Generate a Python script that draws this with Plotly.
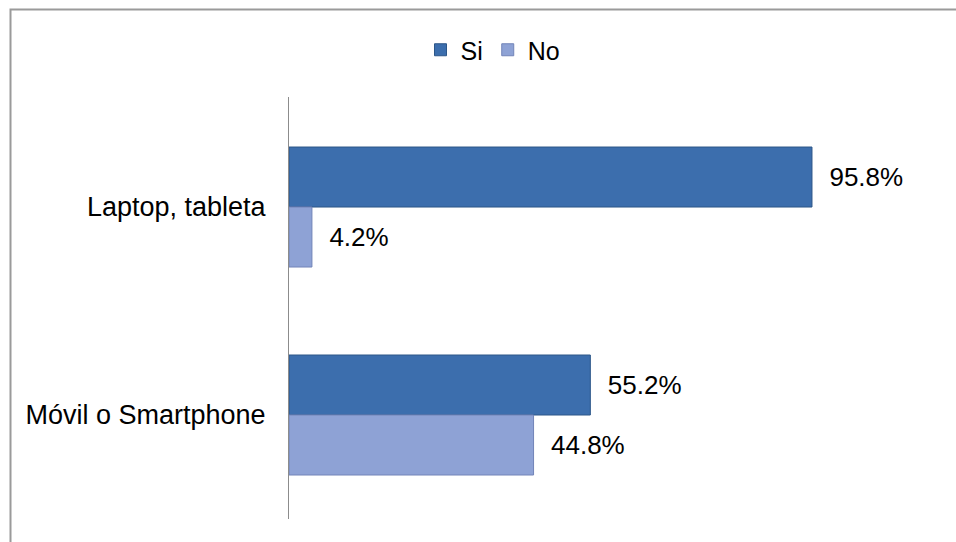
import plotly.graph_objects as go

# Device survey: share answering Si / No per device type
categories = ["Laptop, tableta", "Móvil o Smartphone"]
si_values = [95.8, 55.2]
no_values = [4.2, 44.8]
series_names = ["Si", "No"]

FONT = "Liberation Sans, Arial, sans-serif"

W, H = 956, 542
ML, MR, MT, MB = 289, 11, 97, 23
plot_w = W - ML - MR
plot_h = H - MT - MB


def px_to_paper_x(px):
    return (px - ML) / plot_w


def px_to_paper_y(py):
    return (H - MB - py) / plot_h


def labels(vals):
    return ["\u00a0\u00a0" + f"{v:.1f}%" for v in vals]


fig = go.Figure()
fig.add_trace(go.Bar(
    name=series_names[0], y=categories, x=si_values, orientation="h",
    marker=dict(color="#3c6ead", line=dict(color="#2c5688", width=1)),
    text=labels(si_values), textposition="outside", cliponaxis=False,
    textfont=dict(family=FONT, size=26, color="#000000"),
))
fig.add_trace(go.Bar(
    name=series_names[1], y=categories, x=no_values, orientation="h",
    marker=dict(color="#8ea2d5", line=dict(color="#7284b8", width=1)),
    text=labels(no_values), textposition="outside", cliponaxis=False,
    textfont=dict(family=FONT, size=26, color="#000000"),
))

fig.update_layout(
    width=W, height=H,
    margin=dict(l=ML, r=MR, t=MT, b=MB, autoexpand=False),
    paper_bgcolor="white", plot_bgcolor="white",
    barmode="group", bargap=0.423, bargroupgap=0,
    font=dict(family=FONT, size=26, color="#000000"),
    legend=dict(
        orientation="h", x=px_to_paper_x(493), y=px_to_paper_y(50),
        xanchor="center", yanchor="middle",
        font=dict(family=FONT, size=25, color="#000000"),
        itemwidth=30, traceorder="normal",
        bgcolor="rgba(0,0,0,0)",
    ),
    xaxis=dict(
        range=[0, plot_w / 5.459], visible=False, fixedrange=True,
    ),
    yaxis=dict(
        type="category", range=[1.5, -0.529],
        showline=True, linecolor="#8c8c8c", linewidth=1,
        showgrid=False, zeroline=False, ticks="",
        ticklabelstandoff=17,
        tickfont=dict(family=FONT, size=27, color="#000000"),
    ),
    shapes=[dict(
        type="rect", xref="paper", yref="paper",
        x0=px_to_paper_x(10.5), x1=px_to_paper_x(W + 10),
        y0=px_to_paper_y(H + 10), y1=px_to_paper_y(9.5),
        line=dict(color="#9a9a9a", width=2), fillcolor="rgba(0,0,0,0)",
        layer="below",
    )],
)

fig.write_html("out.html")
